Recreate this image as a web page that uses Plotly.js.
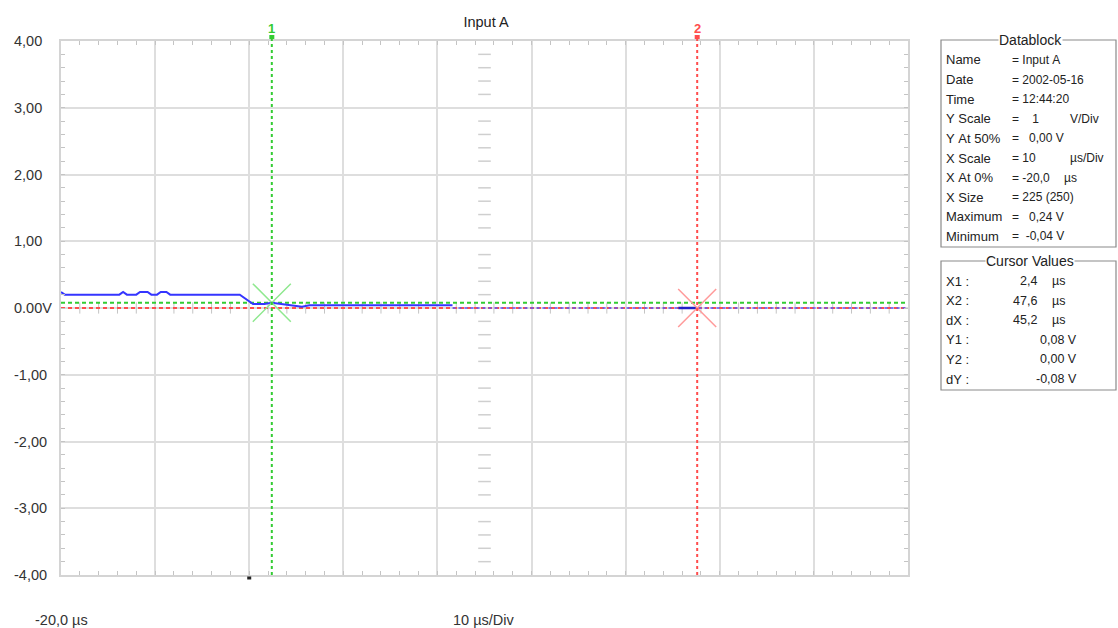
<!DOCTYPE html>
<html>
<head>
<meta charset="utf-8">
<script src="https://cdn.plot.ly/plotly-3.0.1.min.js"></script>
<style>
html,body{margin:0;padding:0;background:#fff;}
#chart{width:1118px;height:628px;}
</style>
</head>
<body>
<div id="chart"></div>
<script>
// ---------------- data ----------------
const chartTitle = "Input A";
const xRange = [-20, 70];            // µs
const yRange = [-4, 4];              // V
const yTickVals = [4, 3, 2, 1, 0, -1, -2, -3, -4];
const yTickText = ["4,00", "3,00", "2,00", "1,00", "0.00V", "-1,00", "-2,00", "-3,00", "-4,00"];
const xStartLabel = "-20,0 µs";
const xScaleLabel = "10 µs/Div";

// measured trace (µs, V)
const traceX = [-20, -19.6, -13.8, -13.4, -13.0, -12.0, -11.6, -10.8, -10.4, -9.8, -9.4, -8.8, -8.4, -1.0, 0.4, 1.6, 2.4, 3.6, 4.8, 5.6, 6.4, 10, 14, 18, 21.6];
const traceY = [0.24, 0.20, 0.20, 0.24, 0.20, 0.20, 0.24, 0.24, 0.20, 0.20, 0.24, 0.24, 0.20, 0.20, 0.06, 0.06, 0.08, 0.06, 0.04, 0.02, 0.04, 0.04, 0.04, 0.04, 0.04];
// remainder of record (shown dotted) and short segment near cursor 2
const tailX = [21.6, 70];
const tailY = [0.00, 0.00];
const segX = [45.6, 47.6];
const segY = [0.00, 0.00];

// cursors
const cursorNames = ["1", "2"];
const cursorX = [2.4, 47.6];
const cursorY = [0.08, 0.00];
const triggerX = [0];

// datablock
const dbTitle = "Datablock";
const dbLabels = ["Name", "Date", "Time", "Y Scale", "Y At 50%", "X Scale", "X At 0%", "X Size", "Maximum", "Minimum"];
const dbValues = ["= Input A", "= 2002-05-16", "= 12:44:20", "=    1", "=   0,00 V", "= 10", "= -20,0", "= 225 (250)", "=   0,24 V", "=  -0,04 V"];
const dbUnits = ["", "", "", "V/Div", "", "µs/Div", "µs", "", "", ""];

const cvTitle = "Cursor Values";
const cvLabels = ["X1 :", "X2 :", "dX :", "Y1 :", "Y2 :", "dY :"];
const cvValues = ["2,4", "47,6", "45,2", "0,08 V", "0,00 V", "-0,08 V"];
const cvUnits = ["µs", "µs", "µs", "", "", ""];

// ---------------- layout helpers ----------------
const L = 61, R = 908, T = 41, B = 575, W = 1118, H = 628;
const px = v => (v - L) / (R - L);
const py = v => (B - v) / (B - T);
const nb = s => s.replace(/ /g, "\u00a0");

const FONT = "Liberation Sans, Arial, sans-serif";
const NARROW = "Liberation Sans Narrow, Liberation Sans, Arial, sans-serif";
const cursorColors = ["#33cc33", "#ff4d4d"];
const markColors = ["#8fe88f", "#ff9a9a"];
const gridColor = "#dedede";
const tickColor = "#c4c4c4";

const traces = [];

// zero-line small ticks and center-line small ticks (scope graticule)
const zx = [], zy = [], cx = [], cy = [];
for (let v = xRange[0] + 2; v < xRange[1]; v += 2) {
  if (Math.abs(((v - xRange[0]) % 10)) > 1e-6) { zx.push(v); zy.push(0); }
}
const xc = (xRange[0] + xRange[1]) / 2;
for (let v = yRange[0] + 0.2; v < yRange[1] - 1e-6; v += 0.2) {
  const r = Math.abs(v - Math.round(v));
  if (r > 1e-6) { cx.push(xc); cy.push(v); }
}
traces.push({x: zx, y: zy, mode: "markers", type: "scatter", hoverinfo: "skip",
  marker: {symbol: "line-ns", size: 8, color: tickColor, line: {color: tickColor, width: 1}}});
traces.push({x: cx, y: cy, mode: "markers", type: "scatter", hoverinfo: "skip",
  marker: {symbol: "line-ew", size: 9, color: "#cfcfcf", line: {color: "#cfcfcf", width: 1.5}}});

// cursor horizontal lines
traces.push({x: xRange, y: [cursorY[0], cursorY[0]], mode: "lines", type: "scatter", hoverinfo: "skip",
  line: {color: cursorColors[0], width: 2, dash: "4px,3px"}});
traces.push({x: xRange, y: [cursorY[1], cursorY[1]], mode: "lines", type: "scatter", hoverinfo: "skip",
  line: {color: cursorColors[1], width: 2, dash: "4px,3px"}});

// tail (dotted blue)
traces.push({x: tailX, y: tailY, mode: "lines", type: "scatter", hoverinfo: "skip",
  line: {color: "rgba(90,90,255,0.75)", width: 2, dash: "3px,3px"}});

// signal
traces.push({x: traceX, y: traceY, mode: "lines", type: "scatter", hoverinfo: "skip",
  line: {color: "#3535ff", width: 2}});
traces.push({x: segX, y: segY, mode: "lines", type: "scatter", hoverinfo: "skip",
  line: {color: "#2020c8", width: 2.5}});

// cursor X markers
for (let i = 0; i < cursorX.length; i++) {
  traces.push({x: [cursorX[i]], y: [cursorY[i]], mode: "markers", type: "scatter", hoverinfo: "skip",
    marker: {symbol: "x-thin-open", size: 38, color: markColors[i], line: {color: markColors[i], width: 1.5}}});
}

const shapes = [];
for (let i = 0; i < cursorX.length; i++) {
  shapes.push({type: "line", xref: "x", yref: "paper", x0: cursorX[i], x1: cursorX[i], y0: 0, y1: py(36),
    line: {color: cursorColors[i], width: 2, dash: "3px,3px"}, layer: "above"});
  // top handle
  shapes.push({type: "rect", xref: "x", xsizemode: "pixel", xanchor: cursorX[i], x0: -2.5, x1: 2.5,
    yref: "paper", ysizemode: "pixel", yanchor: py(37), y0: -2, y1: 2,
    fillcolor: cursorColors[i], line: {width: 0}, layer: "above"});
}
// trigger marker
triggerX.forEach(t => {
  shapes.push({type: "rect", xref: "x", xsizemode: "pixel", xanchor: t, x0: -2, x1: 2,
    yref: "paper", ysizemode: "pixel", yanchor: py(578), y0: -1.5, y1: 1.5,
    fillcolor: "#222", line: {width: 0}, layer: "above"});
});
// group boxes
const boxes = [[941, 1116, 40, 247], [941, 1116, 261, 390]];
boxes.forEach(b => {
  shapes.push({type: "rect", xref: "paper", yref: "paper", x0: px(b[0]), x1: px(b[1]), y0: py(b[3]), y1: py(b[2]),
    line: {color: "#8a8a8a", width: 1.2}, fillcolor: "rgba(0,0,0,0)"});
});

const annotations = [];
const txt = (text, x, y, anchor, size, color, extra, fam) => Object.assign({
  text: nb(text), xref: "paper", yref: "paper", x: px(x), y: py(y), xanchor: anchor, yanchor: "middle",
  showarrow: false, font: {family: fam || FONT, size: size || 12, color: color || "#222"}
}, extra || {});

// y tick labels (left-aligned like the scope software)
yTickVals.forEach((v, i) => {
  annotations.push({text: yTickText[i], xref: "paper", yref: "y", x: px(12), y: v, xanchor: "left", yanchor: "middle",
    showarrow: false, font: {family: FONT, size: 14.5, color: "#333"}});
});
annotations.push(txt(xStartLabel, 33, 620, "left", 14.5, "#333"));
annotations.push(txt(xScaleLabel, 483, 620, "center", 14.5, "#333"));

// cursor labels
cursorNames.forEach((n, i) => {
  annotations.push({text: "<b>" + n + "</b>", xref: "x", yref: "paper", x: cursorX[i], y: py(28), xanchor: "center", yanchor: "middle",
    showarrow: false, font: {family: FONT, size: 13, color: cursorColors[i]}});
});

// datablock
annotations.push(txt(dbTitle, 1030, 40, "center", 14, "#222", {bgcolor: "#fff", borderpad: 0}));
dbLabels.forEach((l, i) => {
  const y = 60 + i * 19.6;
  annotations.push(txt(l, 944, y, "left", 13, "#222", null, NARROW));
  annotations.push(txt(dbValues[i], 1010, y, "left", 12));
  if (dbUnits[i]) annotations.push(txt(dbUnits[i], dbUnits[i] === "µs" ? 1062 : 1068, y, "left", 12));
});
annotations.push(txt(cvTitle, 1030, 261, "center", 14, "#222", {bgcolor: "#fff", borderpad: 0}));
cvLabels.forEach((l, i) => {
  const y = 281 + i * 19.6;
  annotations.push(txt(l, 944, y, "left", 13, "#222", null, NARROW));
  if (cvUnits[i]) {
    annotations.push(txt(cvValues[i], 1039, y, "right", 12.5));
    annotations.push(txt(cvUnits[i], 1050, y, "left", 12.5));
  } else {
    annotations.push(txt(cvValues[i], 1079, y, "right", 12.5));
  }
});

const axisCommon = {
  showgrid: true, gridcolor: gridColor, gridwidth: 2, zeroline: false,
  showline: true, linecolor: "#d4d4d4", linewidth: 2, mirror: "allticks",
  ticks: "inside", ticklen: 4, tickcolor: tickColor, showticklabels: false, fixedrange: true
};

const layout = {
  width: W, height: H,
  margin: {l: L, r: W - R, t: T, b: H - B, pad: 0},
  paper_bgcolor: "#fff", plot_bgcolor: "#fff",
  showlegend: false,
  title: {text: chartTitle, x: px(486), xref: "paper", y: 1 - 22 / H, yref: "container", xanchor: "center", yanchor: "middle",
    font: {family: FONT, size: 14.5, color: "#222"}},
  xaxis: Object.assign({}, axisCommon, {range: xRange, tick0: xRange[0], dtick: 10,
    minor: {dtick: 2, tick0: xRange[0], ticks: "inside", ticklen: 4, tickcolor: tickColor, showgrid: false}}),
  yaxis: Object.assign({}, axisCommon, {range: yRange, tick0: yRange[0], dtick: 1,
    minor: {dtick: 0.2, tick0: yRange[0], ticks: "inside", ticklen: 4, tickcolor: tickColor, showgrid: false}}),
  shapes: shapes,
  annotations: annotations
};

Plotly.newPlot("chart", traces, layout, {displayModeBar: false, staticPlot: true});
</script>
</body>
</html>
